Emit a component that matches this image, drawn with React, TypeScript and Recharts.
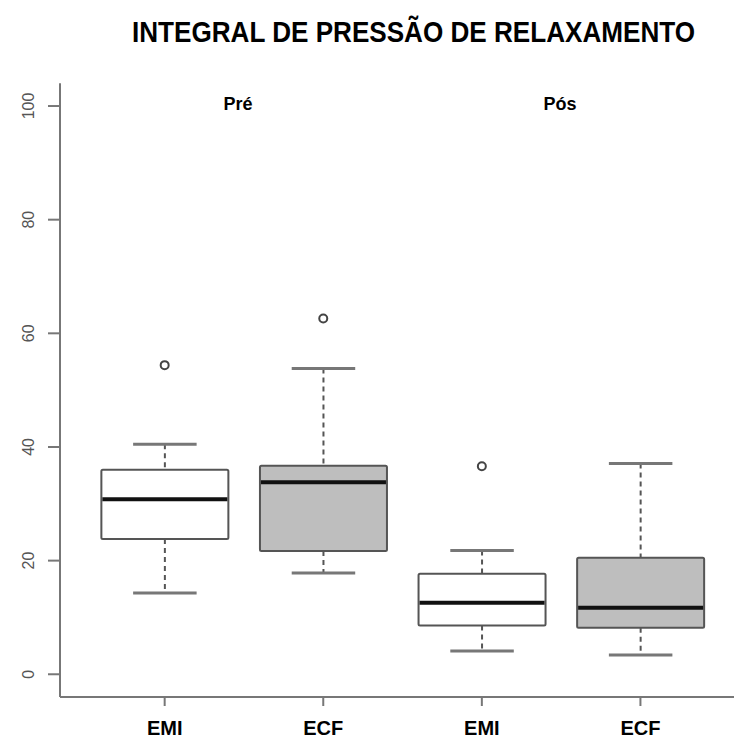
import { ComposedChart, Bar, Scatter, XAxis, YAxis } from 'recharts'

// valores (boxplot)
const categorias = ['EMI', 'ECF', 'EMI', 'ECF']
const grupos = ['Pré', 'Pós']
const minimo = [14.3, 17.8, 4.1, 3.4]
const quartil1 = [23.8, 21.7, 8.6, 8.2]
const mediana = [30.8, 33.8, 12.6, 11.7]
const quartil3 = [36.0, 36.7, 17.7, 20.5]
const maximo = [40.5, 53.8, 21.8, 37.1]
const outlierPos = [1, 2, 3]
const outlierVal = [54.4, 62.6, 36.6]
const yTicks = [0, 20, 40, 60, 80, 100]

const data = categorias.map((nome, i) => ({
  pos: i + 1,
  nome,
  faixa: [minimo[i], maximo[i]],
  min: minimo[i],
  q1: quartil1[i],
  med: mediana[i],
  q3: quartil3[i],
  max: maximo[i],
}))

const outliers = outlierPos.map((pos, i) => ({ pos, val: outlierVal[i] }))

const FONTE = '"Liberation Sans", Arial, sans-serif'

function Caixa(props: any) {
  const { x, y, width, height, payload } = props
  const { min, max, q1, q3, med, pos } = payload
  // posição em pixels a partir do retângulo que o Recharts calculou para [min, max]
  const py = (v: number) => y + (height * (max - v)) / (max - min)
  const cx = x + width / 2
  const meio = width / 4
  const fill = pos % 2 === 0 ? '#bebebe' : '#ffffff'
  return (
    <g>
      <line x1={cx} x2={cx} y1={py(max)} y2={py(q3)} stroke="#555" strokeWidth={2} strokeDasharray="5 4" />
      <line x1={cx} x2={cx} y1={py(q1)} y2={py(min)} stroke="#555" strokeWidth={2} strokeDasharray="5 4" />
      <line x1={cx - meio} x2={cx + meio} y1={py(max)} y2={py(max)} stroke="#777" strokeWidth={3} />
      <line x1={cx - meio} x2={cx + meio} y1={py(min)} y2={py(min)} stroke="#777" strokeWidth={3} />
      <rect x={x} y={py(q3)} width={width} height={py(q1) - py(q3)} fill={fill} stroke="#555" strokeWidth={2} rx={1.5} />
      <line x1={x + 1} x2={x + width - 1} y1={py(med)} y2={py(med)} stroke="#111" strokeWidth={4} />
    </g>
  )
}

function Outlier(props: any) {
  const { cx, cy } = props
  return <circle cx={cx} cy={cy} r={4} fill="#fff" stroke="#444" strokeWidth={2} />
}

function TickY(props: any) {
  const { x, y, payload } = props
  return (
    <text
      transform={`translate(${x - 12},${y}) rotate(-90)`}
      textAnchor="middle"
      fontFamily={FONTE}
      fontSize={16}
      fill="#555"
    >
      {payload.value}
    </text>
  )
}

function TickX(props: any) {
  const { x, y, payload } = props
  return (
    <text x={x} y={y} dy={27} textAnchor="middle" fontFamily={FONTE} fontSize={20} fontWeight="bold" fill="#000">
      {categorias[payload.value - 1]}
    </text>
  )
}

export default function App() {
  return (
    <div style={{ position: 'absolute', left: 0, top: 0, width: 735, height: 743, background: '#fff' }}>
      <ComposedChart
        width={735}
        height={743}
        data={data}
        margin={{ top: 83.3, right: 1, bottom: 0, left: 0 }}
      >
        <XAxis
          type="number"
          dataKey="pos"
          domain={[0.34, 4.59]}
          ticks={[1, 2, 3, 4]}
          allowDataOverflow
          interval={0}
          height={46}
          tickSize={9}
          stroke="#777"
          strokeWidth={2}
          tick={<TickX />}
        />
        <YAxis
          type="number"
          domain={[-4, 104]}
          ticks={yTicks}
          allowDataOverflow
          width={60}
          tickSize={12}
          stroke="#777"
          strokeWidth={2}
          tick={<TickY />}
        />
        <Bar dataKey="faixa" barSize={127} shape={<Caixa />} isAnimationActive={false} />
        <Scatter data={outliers} dataKey="val" shape={<Outlier />} isAnimationActive={false} />
      </ComposedChart>
      <svg
        width={735}
        height={743}
        style={{ position: 'absolute', left: 0, top: 0, pointerEvents: 'none' }}
      >
        <text
          x={413.5}
          y={42}
          textAnchor="middle"
          fontFamily={'"Liberation Sans Narrow", "Liberation Sans", Arial, sans-serif'}
          fontSize={30}
          fontWeight="bold"
          textLength={563}
          lengthAdjust="spacingAndGlyphs"
        >
          INTEGRAL DE PRESSÃO DE RELAXAMENTO
        </text>
        <text x={238} y={110} textAnchor="middle" fontFamily={FONTE} fontSize={18} fontWeight="bold">
          {grupos[0]}
        </text>
        <text x={560} y={110} textAnchor="middle" fontFamily={FONTE} fontSize={18} fontWeight="bold">
          {grupos[1]}
        </text>
      </svg>
    </div>
  )
}
